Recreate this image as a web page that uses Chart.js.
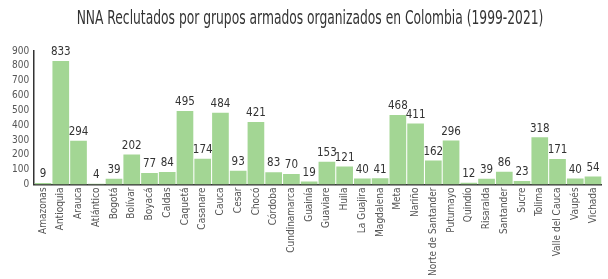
<!DOCTYPE html>
<html>
<head>
<meta charset="utf-8">
<script src="https://cdn.jsdelivr.net/npm/chart.js@4"></script>
<style>
  html, body { margin: 0; padding: 0; background: #fff; }
  #wrap { width: 608px; height: 279px; }
</style>
</head>
<body>
<div id="wrap"><canvas id="chart"></canvas></div>
<script>
// datos
const departamentos = ['Amazonas', 'Antioquia', 'Arauca', 'Atlántico', 'Bogotá', 'Bolívar', 'Boyacá', 'Caldas',
  'Caquetá', 'Casanare', 'Cauca', 'Cesar', 'Chocó', 'Córdoba', 'Cundinamarca', 'Guainía', 'Guaviare', 'Huila',
  'La Guajira', 'Magdalena', 'Meta', 'Nariño', 'Norte de Santander', 'Putumayo', 'Quindío', 'Risaralda',
  'Santander', 'Sucre', 'Tolima', 'Valle del Cauca', 'Vaupés', 'Vichada'];
const reclutados = [9, 833, 294, 4, 39, 202, 77, 84, 495, 174, 484, 93, 421, 83, 70, 19, 153, 121,
  40, 41, 468, 411, 162, 296, 12, 39, 86, 23, 318, 171, 40, 54];
const yTicks = [0, 100, 200, 300, 400, 500, 600, 700, 800, 900];
const titulo = 'NNA Reclutados por grupos armados organizados en Colombia (1999-2021)';

const fontFam = '"Liberation Sans Narrow", "DejaVu Sans Condensed", "Roboto", sans-serif';

// titulo condensado (la fuente original es mas estrecha)
const condensedTitle = {
  id: 'condensedTitle',
  afterDraw(chart) {
    const {ctx} = chart;
    ctx.save();
    ctx.font = `19px ${fontFam}`;
    ctx.fillStyle = '#333';
    ctx.textAlign = 'center';
    ctx.textBaseline = 'middle';
    ctx.translate(310, 19);
    ctx.scale(0.72, 1);
    ctx.fillText(titulo, 0, 0);
    ctx.restore();
  }
};

// valores encima de las barras
const valueLabels = {
  id: 'valueLabels',
  afterDatasetsDraw(chart) {
    const {ctx} = chart;
    const meta = chart.getDatasetMeta(0);
    ctx.save();
    ctx.font = `11.5px ${fontFam}`;
    ctx.fillStyle = '#333';
    ctx.textAlign = 'center';
    ctx.textBaseline = 'bottom';
    meta.data.forEach((bar, i) => {
      ctx.fillText(reclutados[i], bar.x, bar.y - 3);
    });
    ctx.restore();
  }
};

new Chart(document.getElementById('chart'), {
  type: 'bar',
  data: {
    labels: departamentos,
    datasets: [{
      data: reclutados,
      backgroundColor: '#a3d694',
      borderWidth: 0,
      categoryPercentage: 1,
      barPercentage: 0.94
    }]
  },
  options: {
    responsive: true,
    maintainAspectRatio: false,
    animation: false,
    layout: { padding: { left: 7, right: 0, top: 51, bottom: 0 } },
    plugins: {
      legend: { display: false },
      tooltip: { enabled: false },
      title: { display: false }
    },
    scales: {
      x: {
        grid: { display: false, drawTicks: false },
        border: { display: true, color: '#333', width: 1.5 },
        ticks: {
          color: '#555',
          font: { family: fontFam, size: 10 },
          minRotation: 90,
          maxRotation: 90,
          autoSkip: false,
          padding: 3
        }
      },
      y: {
        min: 0,
        max: 900,
        afterBuildTicks(axis) { axis.ticks = yTicks.map(v => ({value: v})); },
        grid: { display: false, drawTicks: false },
        border: { display: true, color: '#333', width: 1.5 },
        ticks: {
          color: '#555',
          font: { family: fontFam, size: 10 },
          autoSkip: false,
          padding: 5
        }
      }
    }
  },
  plugins: [valueLabels, condensedTitle]
});
</script>
</body>
</html>
